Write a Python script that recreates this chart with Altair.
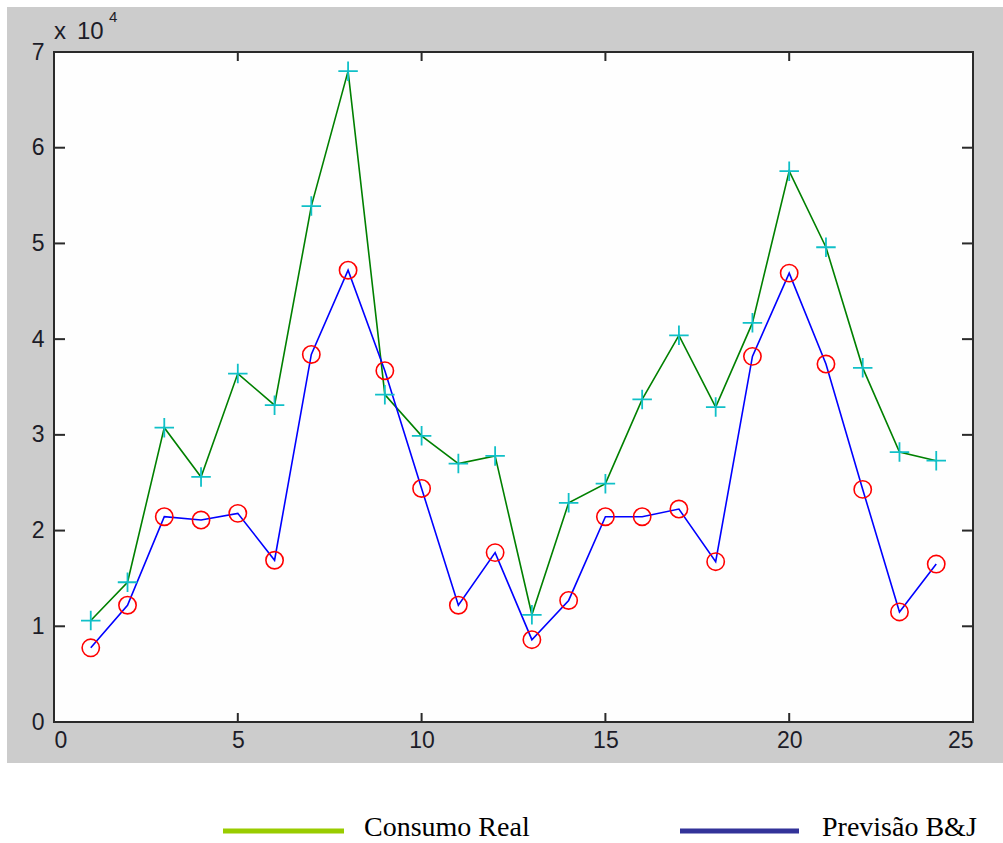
import altair as alt
import pandas as pd

# ---- data ----
periodo = list(range(1, 25))
consumo_real = [10600, 14600, 30750, 25600, 36400, 33100, 53900, 68000, 34200, 29900,
                27000, 27800, 11200, 22900, 24900, 33700, 40400, 32900, 41700, 57550,
                49600, 37000, 28200, 27300]
previsao_bj = [7750, 12200, 21450, 21100, 21800, 16900, 38400, 47200, 36700, 24400,
               12200, 17700, 8600, 12700, 21450, 21450, 22250, 16750, 38200, 46900,
               37400, 24300, 11500, 16500]
x_ticks = [0, 5, 10, 15, 20, 25]
y_ticks = [0, 10000, 20000, 30000, 40000, 50000, 60000, 70000]
legend_names = ["Consumo Real", "Previsão B&J"]

W, H = 919, 670

df_real = pd.DataFrame({"x": periodo, "y": consumo_real})
df_prev = pd.DataFrame({"x": periodo, "y": previsao_bj})
df_xt = pd.DataFrame({"t": x_ticks})
df_yt = pd.DataFrame({"v": y_ticks})
one = pd.DataFrame({"k": [0]})  # single row for decorations

xs = alt.Scale(domain=[0, 25], nice=False, zero=False)
ys = alt.Scale(domain=[0, 70000], nice=False, zero=False)

xaxis = alt.Axis(values=x_ticks, title=None, domain=False, ticks=False, grid=False,
                 labelPadding=7, labelFont="Liberation Sans", labelFontSize=23,
                 labelColor="#1c1c28", zindex=1)
yaxis = alt.Axis(values=y_ticks, title=None, domain=False, ticks=False, grid=False,
                 labelPadding=10, labelFont="Liberation Sans", labelFontSize=23,
                 labelColor="#1c1c28", zindex=1, labelExpr="datum.value / 10000")

# figure background (gray) and white axes box
gray_bg = alt.Chart(one).mark_rect(color="#cccccc").encode(
    x=alt.value(-47), x2=alt.value(949), y=alt.value(-45), y2=alt.value(711))
box = alt.Chart(one).mark_rect(color="#fefefe", stroke="#2a2a2a", strokeWidth=2).encode(
    x=alt.value(0), x2=alt.value(W), y=alt.value(0), y2=alt.value(H))

# inward ticks on all four sides
tick_style = dict(color="#2a2a2a", strokeWidth=2)
xt_bottom = alt.Chart(df_xt).mark_rule(**tick_style).encode(
    x=alt.X("t:Q", scale=xs, axis=xaxis), y=alt.value(H), y2=alt.value(H - 9))
xt_top = alt.Chart(df_xt).mark_rule(**tick_style).encode(
    x=alt.X("t:Q", scale=xs, axis=xaxis), y=alt.value(0), y2=alt.value(9))
yt_left = alt.Chart(df_yt).mark_rule(**tick_style).encode(
    y=alt.Y("v:Q", scale=ys, axis=yaxis), x=alt.value(0), x2=alt.value(11))
yt_right = alt.Chart(df_yt).mark_rule(**tick_style).encode(
    y=alt.Y("v:Q", scale=ys, axis=yaxis), x=alt.value(W), x2=alt.value(W - 11))

enc = dict(x=alt.X("x:Q", scale=xs, axis=xaxis), y=alt.Y("y:Q", scale=ys, axis=yaxis))

line_real = alt.Chart(df_real).mark_line(color="#008000", strokeWidth=1.6).encode(**enc)
line_prev = alt.Chart(df_prev).mark_line(color="#0000ff", strokeWidth=1.6).encode(**enc)
pts_real = alt.Chart(df_real).mark_point(shape="M-1,0L1,0M0,-1L0,1", size=380, filled=False,
                                         stroke="#10c0c8", strokeWidth=1.8, opacity=1).encode(**enc)
pts_prev = alt.Chart(df_prev).mark_point(shape="circle", size=300, filled=False,
                                         stroke="#ff0000", strokeWidth=1.6, opacity=1).encode(**enc)

# exponent label
txt = dict(font="Liberation Sans", color="#1c1c28", align="left", baseline="alphabetic")
exp_x = alt.Chart(one).mark_text(text="x", fontSize=24, **txt).encode(
    x=alt.value(0), y=alt.value(-13))
exp_10 = alt.Chart(one).mark_text(text="10", fontSize=24, **txt).encode(
    x=alt.value(23), y=alt.value(-13))
exp_4 = alt.Chart(one).mark_text(text="4", fontSize=15, **txt).encode(
    x=alt.value(55), y=alt.value(-30))

# external legend
ltxt = dict(font="Liberation Serif", fontSize=28, color="black", align="left",
            baseline="alphabetic")
leg1_line = alt.Chart(one).mark_rule(color="#99cc00", strokeWidth=5).encode(
    x=alt.value(169), x2=alt.value(290), y=alt.value(779))
leg1_text = alt.Chart(one).mark_text(text=legend_names[0], **ltxt).encode(
    x=alt.value(310), y=alt.value(784))
leg2_line = alt.Chart(one).mark_rule(color="#333399", strokeWidth=5).encode(
    x=alt.value(626), x2=alt.value(745), y=alt.value(779))
leg2_text = alt.Chart(one).mark_text(text=legend_names[1], **ltxt).encode(
    x=alt.value(768), y=alt.value(784))

chart = alt.layer(
    gray_bg, box, xt_bottom, xt_top, yt_left, yt_right,
    line_real, line_prev, pts_real, pts_prev,
    exp_x, exp_10, exp_4, leg1_line, leg1_text, leg2_line, leg2_text
).properties(
    width=W, height=H,
    autosize=alt.AutoSizeParams(type="none"),
    padding={"left": 54, "top": 52, "right": 30, "bottom": 121},
    background="white",
).configure_view(stroke=None)

chart.save("out.html", embed_options={"renderer": "svg", "actions": False})
